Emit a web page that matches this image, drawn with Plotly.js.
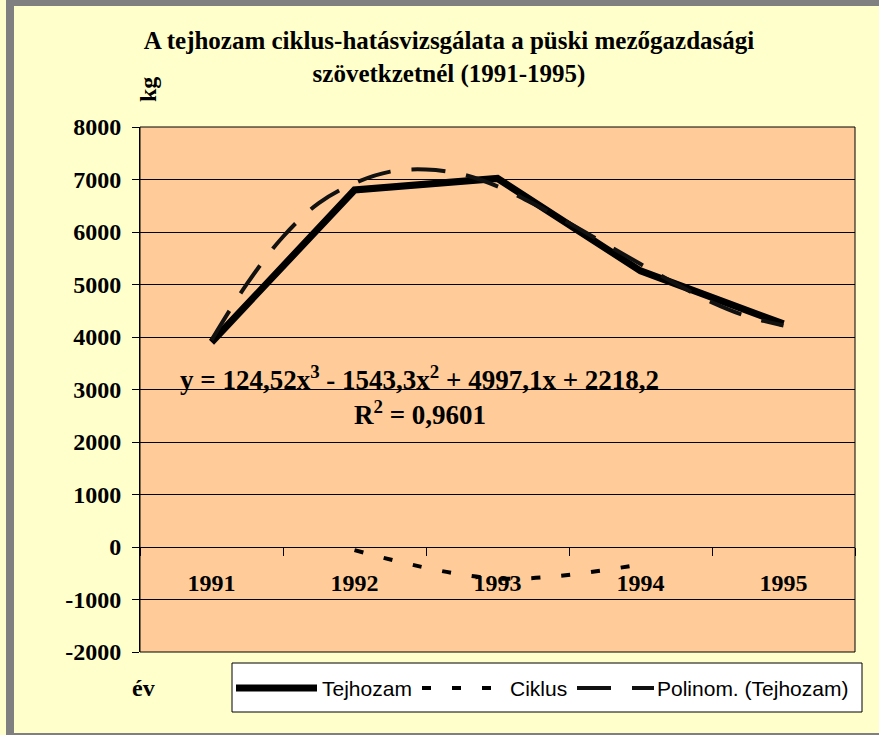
<!DOCTYPE html>
<html>
<head>
<meta charset="utf-8">
<script src="https://cdn.plot.ly/plotly-3.0.1.min.js"></script>
<style>
html,body{margin:0;padding:0;background:#FFFFCC;}
#wrap{position:relative;width:879px;height:735px;overflow:hidden;}
#chart{position:absolute;left:0;top:0;width:879px;height:735px;}
.band{position:absolute;background:#808080;pointer-events:none;}
</style>
</head>
<body>
<div id="wrap">
  <div id="chart"></div>
  <div class="band" style="left:6px;top:0;width:8px;height:735px"></div>
  <div class="band" style="left:6px;top:0;width:873px;height:6px"></div>
  <div class="band" style="left:6px;top:733px;width:873px;height:2px"></div>
</div>
<script>
// ---- data ----
const years = [1991, 1992, 1993, 1994, 1995];
const yearLabels = ['1991', '1992', '1993', '1994', '1995'];
const tejhozam = [3900, 6800, 7020, 5260, 4250];

const ciklusYears = [1992, 1993, 1994];
const ciklus = [-60, -600, -330];

const polyYears = [1991, 1991.25, 1991.5, 1991.75, 1992, 1992.25, 1992.5, 1992.75,
                   1993, 1993.25, 1993.5, 1993.75, 1994, 1994.25, 1994.5, 1994.75, 1995];
const polinom = [3940, 5020, 5910, 6550, 6930, 7150, 7190, 7100,
                 6870, 6540, 6170, 5780, 5390, 5010, 4660, 4390, 4220];

const yTicks = [-2000, -1000, 0, 1000, 2000, 3000, 4000, 5000, 6000, 7000, 8000];
const yTickLabels = ['-2000', '-1000', '0', '1000', '2000', '3000', '4000', '5000', '6000', '7000', '8000'];

const seriesNames = ['Tejhozam', 'Ciklus', 'Polinom. (Tejhozam)'];

const titleText = 'A tejhozam ciklus-hatásvizsgálata a püski mezőgazdasági<br>szövetkzetnél (1991-1995)';
const equationText = 'y = 124,52x<sup>3</sup> - 1543,3x<sup>2</sup> + 4997,1x + 2218,2';
const r2Text = 'R<sup>2</sup> = 0,9601';

// ---- styling ----
const serif = 'Liberation Serif, Times New Roman, serif';
const sans = 'Liberation Sans, Arial, sans-serif';
const boldSerif = {family: serif, size: 24, color: '#000', weight: 'bold'};
const styles = [
  {color: '#000', width: 7, dash: 'solid'},
  {color: '#000', width: 4, dash: '9px,21px'},
  {color: '#111', width: 4, dash: '34px,21px'}
];

const traces = [
  {
    type: 'scatter', mode: 'lines', name: seriesNames[0], showlegend: false,
    x: years, y: tejhozam,
    line: {color: styles[0].color, width: styles[0].width}
  },
  {
    type: 'scatter', mode: 'lines', name: seriesNames[1], showlegend: false,
    x: ciklusYears, y: ciklus,
    line: {color: styles[1].color, width: styles[1].width, dash: styles[1].dash, shape: 'spline'}
  },
  {
    type: 'scatter', mode: 'lines', name: seriesNames[2], showlegend: false,
    x: polyYears, y: polinom,
    line: {color: styles[2].color, width: styles[2].width, dash: styles[2].dash, shape: 'spline'}
  }
];

// plot area in pixels: x 140..855, y 127..652
const PX = (px) => (px - 140) / 715;
const PY = (py) => (652 - py) / 525;

// custom legend (box, swatches, labels)
const legendShapes = [
  {type: 'rect', xref: 'paper', yref: 'paper', x0: PX(232), x1: PX(862), y0: PY(712), y1: PY(663),
   line: {color: '#000', width: 1}, fillcolor: '#FFFFFF', layer: 'above'}
];
const swatchX = [[236, 317], [422, 496], [577, 654]];
const labelX = [320, 508, 655];
const legendY = 688;
const legendAnn = [];
for (let i = 0; i < 3; i++) {
  legendShapes.push({type: 'line', xref: 'paper', yref: 'paper',
    x0: PX(swatchX[i][0]), x1: PX(swatchX[i][1]), y0: PY(legendY), y1: PY(legendY),
    line: {color: styles[i].color, width: styles[i].width, dash: styles[i].dash}, layer: 'above'});
  legendAnn.push({text: seriesNames[i], xref: 'paper', yref: 'paper',
    x: PX(labelX[i]), y: PY(legendY), xanchor: 'left', yanchor: 'middle', showarrow: false,
    font: {family: sans, size: 21, color: '#000'}});
}

const layout = {
  width: 879, height: 735,
  paper_bgcolor: '#FFFFCC',
  plot_bgcolor: '#FFCC99',
  margin: {l: 140, r: 24, t: 127, b: 83, pad: 0},
  title: {
    text: titleText,
    x: 449 / 879, xref: 'container', xanchor: 'center',
    y: 1 - 49 / 735, yref: 'container', yanchor: 'top',
    font: {family: serif, size: 25, color: '#000', weight: 'bold'}
  },
  showlegend: false,
  xaxis: {
    type: 'linear', range: [1990.5, 1995.5],
    anchor: 'free', position: 0.2,
    tickmode: 'array', tickvals: years, ticktext: yearLabels,
    ticks: '',
    showline: true, linecolor: '#000', linewidth: 1,
    showgrid: false, zeroline: false,
    ticklabelstandoff: 14,
    tickfont: boldSerif,
    minor: {tickmode: 'linear', tick0: 1990.5, dtick: 1, ticks: 'outside', ticklen: 8,
            tickcolor: '#000', tickwidth: 1, showgrid: false},
    fixedrange: true
  },
  yaxis: {
    range: [-2000, 8000],
    tickmode: 'array', tickvals: yTicks, ticktext: yTickLabels,
    ticks: 'outside', ticklen: 7, tickcolor: '#000', tickwidth: 1,
    showgrid: true, gridcolor: '#000', gridwidth: 1,
    zeroline: false,
    showline: true, linecolor: '#000', linewidth: 1,
    ticklabelstandoff: 6,
    tickfont: boldSerif,
    fixedrange: true
  },
  shapes: [
    {type: 'rect', xref: 'paper', yref: 'paper', x0: 0, x1: 1, y0: 0, y1: 1,
     line: {color: '#000', width: 1}, fillcolor: 'rgba(0,0,0,0)', layer: 'above'}
  ].concat(legendShapes),
  annotations: [
    {text: 'kg', xref: 'paper', yref: 'paper', x: PX(148), y: PY(90),
     xanchor: 'center', yanchor: 'middle', textangle: -90, showarrow: false, font: boldSerif},
    {text: 'év', xref: 'paper', yref: 'paper', x: PX(143), y: PY(688),
     xanchor: 'center', yanchor: 'middle', showarrow: false, font: boldSerif},
    {text: equationText, xref: 'paper', yref: 'paper', x: PX(419.5), y: PY(378),
     xanchor: 'center', yanchor: 'middle', showarrow: false,
     font: {family: serif, size: 27, color: '#000', weight: 'bold'}},
    {text: r2Text, xref: 'paper', yref: 'paper', x: PX(420), y: PY(413),
     xanchor: 'center', yanchor: 'middle', showarrow: false,
     font: {family: serif, size: 27, color: '#000', weight: 'bold'}}
  ].concat(legendAnn)
};

Plotly.newPlot('chart', traces, layout, {staticPlot: true, displayModeBar: false});
</script>
</body>
</html>
